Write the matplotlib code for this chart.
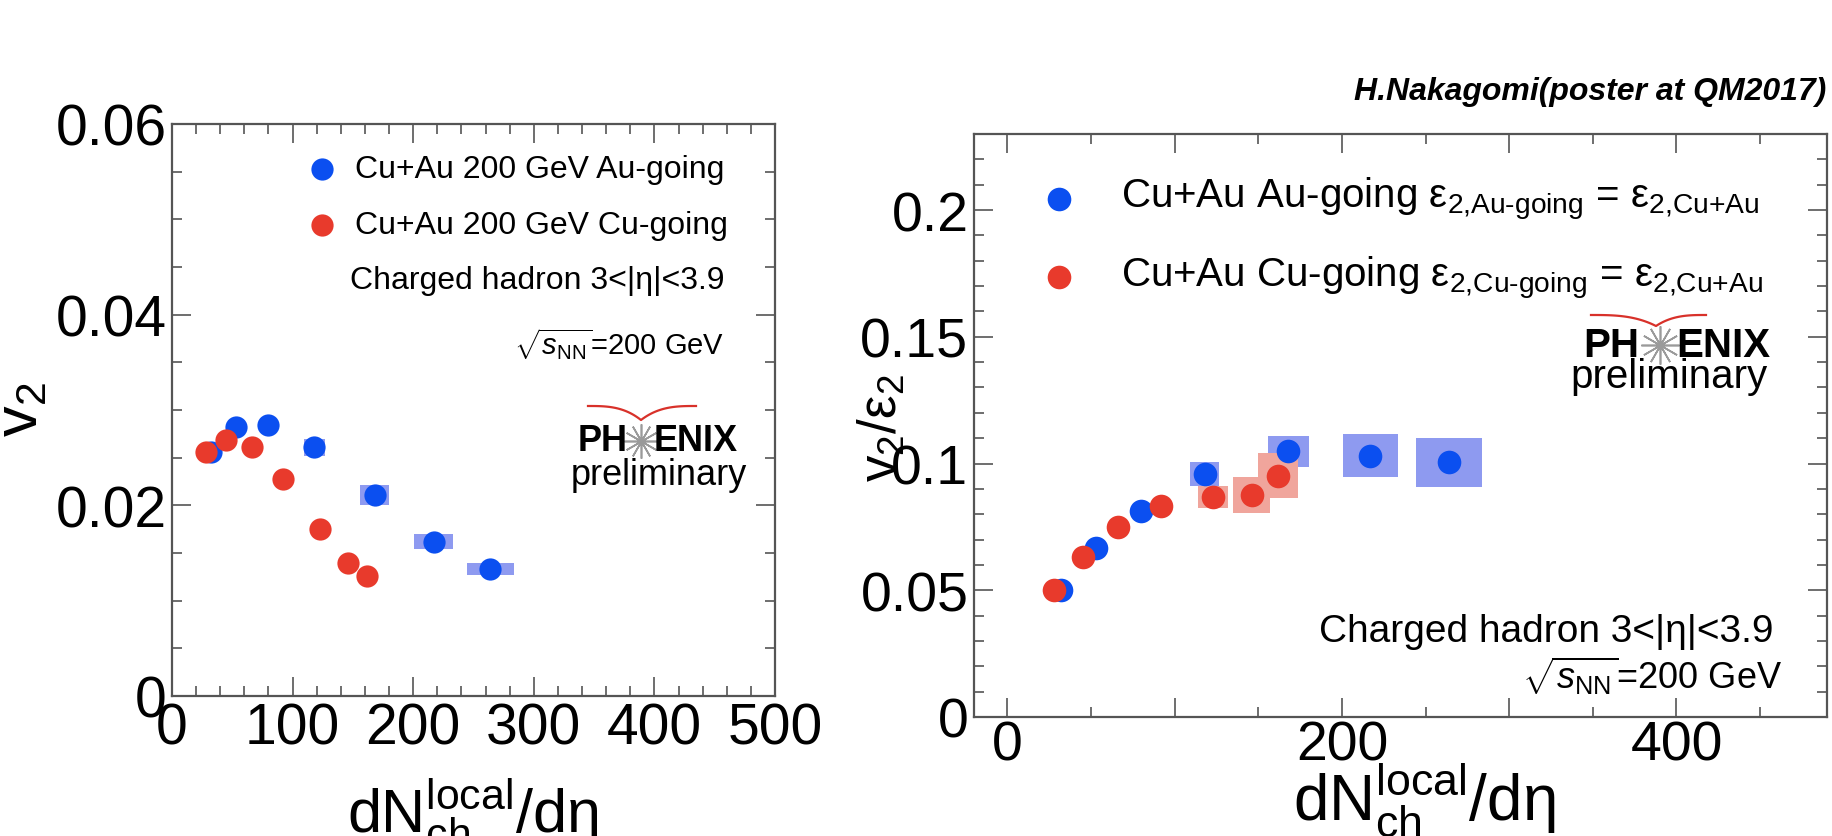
import numpy as np
import matplotlib.pyplot as plt
from matplotlib.lines import Line2D
from matplotlib.ticker import MultipleLocator, FuncFormatter

plt.rcParams['font.family'] = ['Liberation Sans', 'DejaVu Sans']
plt.rcParams['mathtext.fontset'] = 'custom'
plt.rcParams['mathtext.rm'] = 'Liberation Sans'
plt.rcParams['mathtext.it'] = 'Liberation Sans:italic'
plt.rcParams['mathtext.bf'] = 'Liberation Sans:bold'

# dN_ch^local/deta for each centrality bin
au_dndeta = [32, 53, 80, 118, 168, 217, 264]
cu_dndeta = [28, 45, 66, 92, 123, 146, 162]

# left: v2 (box = systematic, full width / full height)
au_v2 = [0.0256, 0.0282, 0.0284, 0.0261, 0.0211, 0.0162, 0.0133]
cu_v2 = [0.0256, 0.0269, 0.0261, 0.0228, 0.0175, 0.0139, 0.0126]
au_v2_boxw = [5, 8, 10, 17.7, 24, 32, 38.7]
au_v2_boxh = [0.0008, 0.0008, 0.0008, 0.0018, 0.0021, 0.0016, 0.0012]
cu_v2_boxw = [4, 5, 6, 8, 10, 12, 13]
cu_v2_boxh = [0.0006, 0.0006, 0.0006, 0.0006, 0.0006, 0.0006, 0.0006]

# right: v2/eps2
au_ratio = [0.0503, 0.0665, 0.0814, 0.0958, 0.1048, 0.1030, 0.1005]
cu_ratio = [0.0503, 0.0632, 0.0748, 0.0832, 0.0867, 0.0877, 0.0952]
au_ratio_boxw = [5, 7, 10, 17.5, 24.6, 33, 39.5]
au_ratio_boxh = [0.002, 0.003, 0.003, 0.0096, 0.0124, 0.017, 0.0195]
cu_ratio_boxw = [4, 6, 8, 10, 18, 22.5, 24]
cu_ratio_boxh = [0.002, 0.003, 0.003, 0.004, 0.0088, 0.0142, 0.0177]

BLUE = '#0b4ff0'
RED = '#e83a2c'
BLUE_BOX = '#8e9af0'
RED_BOX = '#f0a59c'
FRAME = '#555555'

W, H = 1833, 837
fig = plt.figure(figsize=(W / 100, H / 100), dpi=100)


def fx(px):
    return px / W


def fy(py):
    return 1 - py / H


def boxes(ax, x, y, w, h, color, z):
    y = np.array(y)
    h = np.array(h)
    ax.bar(x, h, bottom=y - h / 2, width=w, color=color, zorder=z)


def style_axes(ax, lsize, xpad, ypad):
    for s in ax.spines.values():
        s.set_color(FRAME)
        s.set_linewidth(1.6)
    ax.tick_params(which='both', direction='in', top=True, right=True,
                   color=FRAME, width=1.2)
    ax.tick_params(which='major', length=14, labelsize=lsize)
    ax.tick_params(which='minor', length=7)
    ax.tick_params(axis='x', pad=xpad)
    ax.tick_params(axis='y', pad=ypad)
    ax.yaxis.set_major_formatter(FuncFormatter(lambda v, p: '%g' % round(v, 4)))


def phenix_logo(x_ph, x_star, x_enix, y_main, y_pre, x_pre, size, arc):
    fig.text(fx(x_ph), fy(y_main), 'PH', ha='right', va='center',
             fontsize=size, fontweight='bold')
    fig.text(fx(x_enix), fy(y_main), 'ENIX', ha='left', va='center',
             fontsize=size, fontweight='bold')
    fig.add_artist(Line2D([fx(x_star)], [fy(y_main)], marker=(12, 2, 0),
                          markersize=size * 0.95, color='#9a9a9a',
                          markeredgewidth=1.2, transform=fig.transFigure))
    fig.text(fx(x_pre), fy(y_pre), 'preliminary', ha='center', va='center',
             fontsize=size)
    x0, xm, x1, y0, ydip = arc
    t = np.linspace(0, 1, 30)
    xs = np.concatenate([x0 + t * (xm - x0), xm + t * (x1 - xm)])
    ys = np.concatenate([y0 + (ydip - y0) * t ** 3, ydip - (ydip - y0) * (1 - (1 - t) ** 3)])
    fig.add_artist(Line2D(fx(xs), fy(ys), color='#d8312a', lw=1.6,
                          transform=fig.transFigure))


def legend_dot(x, y, color, ms):
    fig.add_artist(Line2D([fx(x)], [fy(y)], marker='o', ms=ms, color=color,
                          mec='none', transform=fig.transFigure))


# ---------------- left panel ----------------
ax1 = fig.add_axes([fx(172), fy(697), fx(775) - fx(172), fy(125) - fy(697)])
boxes(ax1, au_dndeta, au_v2, au_v2_boxw, au_v2_boxh, BLUE_BOX, 1)
boxes(ax1, cu_dndeta, cu_v2, cu_v2_boxw, cu_v2_boxh, RED_BOX, 1)
ax1.plot(au_dndeta, au_v2, 'o', color=BLUE, ms=16, mec='none', zorder=3)
ax1.plot(cu_dndeta, cu_v2, 'o', color=RED, ms=16, mec='none', zorder=4)
ax1.set_xlim(0, 500)
ax1.set_ylim(0, 0.06)
ax1.xaxis.set_major_locator(MultipleLocator(100))
ax1.xaxis.set_minor_locator(MultipleLocator(20))
ax1.yaxis.set_major_locator(MultipleLocator(0.02))
ax1.yaxis.set_minor_locator(MultipleLocator(0.005))
style_axes(ax1, 41, 4, 4)

legend_dot(322, 170, BLUE, 16)
legend_dot(322, 226, RED, 16)
fig.text(fx(355), fy(170), 'Cu+Au 200 GeV Au-going', fontsize=23, va='center')
fig.text(fx(355), fy(226), 'Cu+Au 200 GeV Cu-going', fontsize=23, va='center')
fig.text(fx(724), fy(281), 'Charged hadron 3<|η|<3.9', fontsize=23,
         va='center', ha='right')
fig.text(fx(724), fy(344), r'$\sqrt{s_{\mathrm{NN}}}$=200 GeV', fontsize=21,
         va='center', ha='right')
phenix_logo(628, 641, 654, 442, 476, 659, 26, (588, 641, 696, 407, 421))

fig.text(fx(22), fy(410), r'v$_2$', fontsize=44, rotation=90,
         ha='center', va='center')
fig.text(fx(473), fy(832), r'dN$_{\mathrm{ch}}^{\mathrm{local}}$/dη', fontsize=44,
         ha='center', va='baseline')

# ---------------- right panel ----------------
ax2 = fig.add_axes([fx(974), fy(718), fx(1827) - fx(974), fy(135) - fy(718)])
boxes(ax2, au_dndeta, au_ratio, au_ratio_boxw, au_ratio_boxh, BLUE_BOX, 1)
boxes(ax2, cu_dndeta, cu_ratio, cu_ratio_boxw, cu_ratio_boxh, RED_BOX, 2)
ax2.plot(au_dndeta, au_ratio, 'o', color=BLUE, ms=17, mec='none', zorder=3)
ax2.plot(cu_dndeta, cu_ratio, 'o', color=RED, ms=17, mec='none', zorder=4)
ax2.set_xlim(-20, 490)
ax2.set_ylim(0, 0.23)
ax2.xaxis.set_major_locator(MultipleLocator(100))
ax2.xaxis.set_minor_locator(MultipleLocator(50))
ax2.yaxis.set_major_locator(MultipleLocator(0.05))
ax2.yaxis.set_minor_locator(MultipleLocator(0.01))
style_axes(ax2, 40, 2, 4)
ax2.xaxis.set_major_formatter(FuncFormatter(lambda v, p: '' if int(round(v)) % 200 else '%d' % v))

legend_dot(1059, 200, BLUE, 17)
legend_dot(1059, 278, RED, 17)
fig.text(fx(1121), fy(200),
         r'Cu+Au Au-going ε$_{\text{2,Au-going}}$ = ε$_{\text{2,Cu+Au}}$',
         fontsize=29, va='center')
fig.text(fx(1121), fy(278),
         r'Cu+Au Cu-going ε$_{\text{2,Cu-going}}$ = ε$_{\text{2,Cu+Au}}$',
         fontsize=29, va='center')
fig.text(fx(1774), fy(632), 'Charged hadron 3<|η|<3.9', fontsize=28,
         va='center', ha='right')
fig.text(fx(1782), fy(676), r'$\sqrt{s_{\mathrm{NN}}}$=200 GeV', fontsize=26,
         va='center', ha='right')
phenix_logo(1639, 1660, 1676, 346, 377, 1669, 29, (1591, 1656, 1706, 316, 327))

fig.text(fx(1826), fy(92), 'H.Nakagomi(poster at QM2017)', fontsize=23,
         fontweight='bold', fontstyle='italic', ha='right', va='center')
fig.text(fx(882), fy(428), r'v$_2$/ε$_2$', fontsize=38, rotation=90,
         ha='center', va='center')
fig.text(fx(1424), fy(820), r'dN$_{\mathrm{ch}}^{\mathrm{local}}$/dη', fontsize=46,
         ha='center', va='baseline')

fig.savefig('out.png', dpi=100)
